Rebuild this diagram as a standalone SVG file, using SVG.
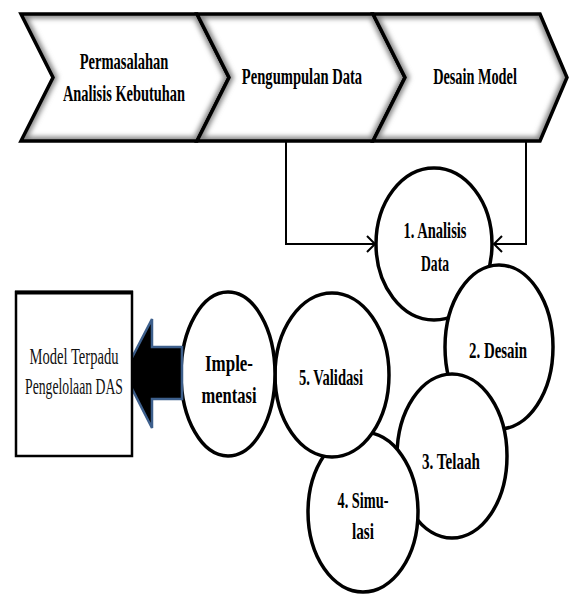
<svg xmlns="http://www.w3.org/2000/svg" width="570" height="595" viewBox="0 0 570 595">
<style>
.t{font-family:"Liberation Serif","DejaVu Serif",serif;font-weight:bold;font-size:24px;fill:#000;text-anchor:middle}
.r{font-family:"Liberation Serif","DejaVu Serif",serif;font-size:23px;fill:#111;text-anchor:middle}
.chev{fill:#fff;stroke:none}
.chevEdge{fill:none;stroke:#000;stroke-width:3.5;stroke-linejoin:miter}
.shade{fill:none;stroke:#888;stroke-width:9;filter:url(#blur)}
.ell{fill:#fff;stroke:#000;stroke-width:3.5}
.con{fill:none;stroke:#000;stroke-width:2;marker-end:url(#arr)}
</style>
<defs>
<filter id="blur" x="-10%" y="-10%" width="120%" height="120%"><feGaussianBlur stdDeviation="2.5"/></filter>
<marker id="arr" viewBox="-10 -10 20 20" refX="0" refY="0" markerWidth="20" markerHeight="20" markerUnits="userSpaceOnUse" orient="auto"><path d="M-8,-8 L0,0 L-8,8" fill="none" stroke="#000" stroke-width="2"/></marker>
<clipPath id="c1"><path d="M21,14 L197,14 L229,77.5 L197,141 L21,141 L53,77.5 Z"/></clipPath>
<clipPath id="c2"><path d="M197,14 L373,14 L405,77.5 L373,141 L197,141 L229,77.5 Z"/></clipPath>
<clipPath id="c3"><path d="M373,14 L540,14 L567,77.5 L540,141 L373,141 L405,77.5 Z"/></clipPath>
</defs>
<rect width="570" height="595" fill="#fff"/>

<g id="chevron1">
<path class="chev" d="M21,14 L197,14 L229,77.5 L197,141 L21,141 L53,77.5 Z"/>
<g clip-path="url(#c1)"><path class="shade" d="M21,14 L197,14 L229,77.5 L197,141 L21,141 L53,77.5 Z"/></g>
<path class="chevEdge" d="M21,14 L197,14 L229,77.5 L197,141 L21,141 L53,77.5 Z"/>
<text class="t" transform="translate(124,69) scale(0.62,1)" x="0" y="0" textLength="143" lengthAdjust="spacingAndGlyphs">Permasalahan</text>
<text class="t" transform="translate(124,101) scale(0.62,1)" x="0" y="0" textLength="197" lengthAdjust="spacingAndGlyphs">Analisis Kebutuhan</text>
</g>
<g id="chevron2">
<path class="chev" d="M197,14 L373,14 L405,77.5 L373,141 L197,141 L229,77.5 Z"/>
<g clip-path="url(#c2)"><path class="shade" d="M197,14 L373,14 L405,77.5 L373,141 L197,141 L229,77.5 Z"/></g>
<path class="chevEdge" d="M197,14 L373,14 L405,77.5 L373,141 L197,141 L229,77.5 Z"/>
<text class="t" transform="translate(302,84) scale(0.62,1)" x="0" y="0" textLength="194" lengthAdjust="spacingAndGlyphs">Pengumpulan Data</text>
</g>
<g id="chevron3">
<path class="chev" d="M373,14 L540,14 L567,77.5 L540,141 L373,141 L405,77.5 Z"/>
<g clip-path="url(#c3)"><path class="shade" d="M373,14 L540,14 L567,77.5 L540,141 L373,141 L405,77.5 Z"/></g>
<path class="chevEdge" d="M373,14 L540,14 L567,77.5 L540,141 L373,141 L405,77.5 Z"/>
<text class="t" transform="translate(475,84) scale(0.62,1)" x="0" y="0" textLength="135" lengthAdjust="spacingAndGlyphs">Desain Model</text>
</g>

<g id="connectors">
<path class="con" d="M286,142 V244 H375"/>
<path class="con" d="M526,142 V244 H494"/>
</g>

<g id="n1">
<ellipse class="ell" cx="434" cy="244" rx="58" ry="76"/>
<text class="t" x="435" y="238" textLength="63" lengthAdjust="spacingAndGlyphs">1. Analisis</text>
<text class="t" x="435" y="271" textLength="28" lengthAdjust="spacingAndGlyphs">Data</text>
</g>
<g id="n2">
<ellipse class="ell" cx="499" cy="347" rx="54" ry="82"/>
<text class="t" x="498" y="358" textLength="58" lengthAdjust="spacingAndGlyphs">2. Desain</text>
</g>
<g id="n3">
<ellipse class="ell" cx="452" cy="456" rx="55" ry="82"/>
<text class="t" x="451" y="469" textLength="58" lengthAdjust="spacingAndGlyphs">3. Telaah</text>
</g>
<g id="n4">
<ellipse class="ell" cx="363" cy="512" rx="55" ry="80"/>
<text class="t" x="363" y="508" textLength="51" lengthAdjust="spacingAndGlyphs">4. Simu-</text>
<text class="t" x="363" y="539" textLength="22" lengthAdjust="spacingAndGlyphs">lasi</text>
</g>
<g id="n5">
<ellipse class="ell" cx="332" cy="375" rx="57" ry="82"/>
<text class="t" x="331" y="385" textLength="64" lengthAdjust="spacingAndGlyphs">5. Validasi</text>
</g>
<g id="n6">
<ellipse class="ell" cx="228" cy="374" rx="47" ry="82"/>
<text class="t" x="229" y="371" textLength="48" lengthAdjust="spacingAndGlyphs">Imple-</text>
<text class="t" x="229" y="403" textLength="55" lengthAdjust="spacingAndGlyphs">mentasi</text>
</g>

<g id="bigArrow">
<path d="M124,373 L152,319 L152,347 L182,347 L182,399 L152,399 L152,428 Z" fill="#000" stroke="#3d5f8c" stroke-width="2.5" stroke-linejoin="miter"/>
</g>

<g id="result">
<rect x="16" y="292" width="116" height="164" fill="#fff" stroke="#000" stroke-width="2.5"/>
<line x1="15" y1="292.5" x2="133" y2="292.5" stroke="#000" stroke-width="4"/>
<text class="r" x="74" y="364" textLength="89" lengthAdjust="spacingAndGlyphs">Model Terpadu</text>
<text class="r" x="74" y="394" textLength="98" lengthAdjust="spacingAndGlyphs">Pengelolaan DAS</text>
</g>
</svg>
